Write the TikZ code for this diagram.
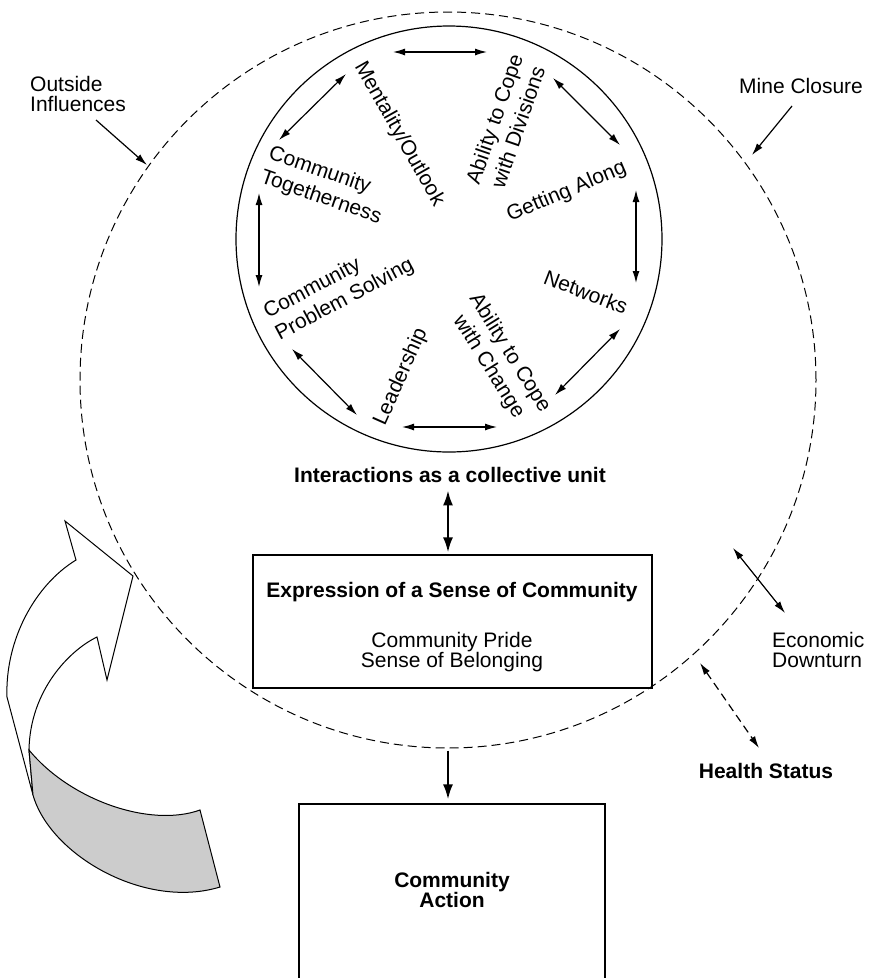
\documentclass[tikz,border=0pt]{standalone}
\usepackage{fontspec}
\setmainfont{Liberation Sans}
\usetikzlibrary{arrows.meta}
\begin{document}
\begin{tikzpicture}[x=1pt,y=-1pt,
  lbl/.style={font=\fontsize{21}{20}\selectfont, inner sep=0pt},
  rlbl/.style={font=\fontsize{21}{25}\selectfont, inner sep=0pt},
  blbl/.style={font=\fontsize{21}{20}\selectfont\bfseries, inner sep=0pt},
  two way/.style={line width=1.2pt, {Latex[length=12pt,width=7pt]}-{Latex[length=12pt,width=7pt]}},
  one way/.style={line width=1.2pt, -{Latex[length=12pt,width=7pt]}},
  bold two way/.style={line width=2.2pt, {Latex[length=15pt,width=10pt]}-{Latex[length=15pt,width=10pt]}},
  bold one way/.style={line width=2.2pt, -{Latex[length=15pt,width=10pt]}},
  ring/.style={draw, circle, inner sep=0pt, line width=1.2pt},
  box/.style={draw, rectangle, inner sep=0pt, line width=1.2pt},
  dashes/.style={dash pattern=on 9pt off 5pt},
]
\useasboundingbox (0,0) rectangle (872,978);
\clip (0,0) rectangle (872,978);

% the community as a whole, and the core of interacting factors
\node[ring, dashes, line width=1pt, minimum size=736pt] (outer) at (448,380) {};
\node[ring, minimum size=426pt] (inner) at (449,239) {};

% factors placed around the inner ring
\node[rlbl, rotate=-60.5] (mental) at (399,134) {Mentality/Outlook};
\node[rlbl, rotate=71, align=center] (divis) at (506,123) {Ability to Cope\\with Divisions};
\node[rlbl, rotate=-19, align=left] (together) at (325,186) {Community\\Togetherness};
\node[rlbl, rotate=23, anchor=base west] (getting) at (510,222) {Getting Along};
\node[rlbl, rotate=28, align=left] (solving) at (339,289) {Community\\Problem Solving};
\node[rlbl, rotate=-21] (networks) at (586,292) {Networks};
\node[rlbl, rotate=-58, align=center] (change) at (499,360) {Ability to Cope\\with Change};
\node[rlbl, rotate=66] (leader) at (401,377) {Leadership};

% links between neighbouring factors
\coordinate (a1) at (393,52);  \coordinate (b1) at (487,52);
\coordinate (a2) at (346,74);  \coordinate (b2) at (279,140);
\coordinate (a3) at (553,78);  \coordinate (b3) at (620,145);
\coordinate (a4) at (636,190); \coordinate (b4) at (636,283);
\coordinate (a5) at (259,193); \coordinate (b5) at (259,287);
\coordinate (a6) at (292,349); \coordinate (b6) at (357,415);
\coordinate (a7) at (402,427); \coordinate (b7) at (497,427);
\coordinate (a8) at (555,395); \coordinate (b8) at (620,329);
\foreach \i in {1,...,8} \draw[two way] (a\i) -- (b\i);

% collective unit and its expression
\node[blbl, anchor=base] (interact) at (450,482) {Interactions as a collective unit};
\node[box, minimum width=399pt, minimum height=133pt] (expr) at (452.5,621.5) {};
\node[blbl, anchor=base] (exprtitle) at (452,597) {Expression of a Sense of Community};
\node[lbl, align=center, anchor=north] (exprbody) at (452,632) {Community Pride\\Sense of Belonging};
\draw[bold two way, shorten <=8pt, shorten >=2pt] (interact.south -| outer.south) -- (expr.north -| outer.south);

% community action
\node[box, minimum width=306pt, minimum height=196pt] (action) at (452,902) {};
\node[blbl, align=center, anchor=north] (actiontext) at (452,872) {Community\\Action};
\draw[bold one way, shorten <=2pt, shorten >=4pt] (outer.south) -- (outer.south |- action.north);

% external influences
\node[lbl, align=left, anchor=north west] (outside) at (30,76) {Outside\\Influences};
\coordinate (outside tail) at (96,120); \coordinate (outside tip) at (147,165);
\draw[one way] (outside tail) -- (outside tip);

\node[lbl, anchor=base west] (mine) at (739,93) {Mine Closure};
\coordinate (mine tail) at (792,106); \coordinate (mine tip) at (752,155);
\draw[one way] (mine tail) -- (mine tip);

\node[lbl, align=left, anchor=north west] (econ) at (772,632) {Economic\\Downturn};
\coordinate (econ in) at (733,548); \coordinate (econ out) at (785,613);
\draw[two way] (econ in) -- (econ out);

\node[blbl, anchor=base] (health) at (766,778) {Health Status};
\coordinate (health in) at (700,663); \coordinate (health out) at (759,748);
\draw[two way, dash pattern=on 8pt off 5pt] (health in) -- (health out);

% curved feedback ribbon: front face with arrow head
\draw[line width=1pt, fill=white, line join=miter]
  (76,560) -- (65,521) -- (133,576) -- (107,680) -- (97,637)
  .. controls (70,650) and (30,690) .. (29,750)
  -- (33,795) -- (7,697)
  .. controls (5,640) and (35,585) .. (76,560) -- cycle;
% back face of the ribbon
\draw[line width=1pt, fill=black!20]
  (29,750) .. controls (70,800) and (150,828) .. (200,810)
  -- (220,887)
  .. controls (145,910) and (50,855) .. (33,795) -- cycle;
\end{tikzpicture}
\end{document}
